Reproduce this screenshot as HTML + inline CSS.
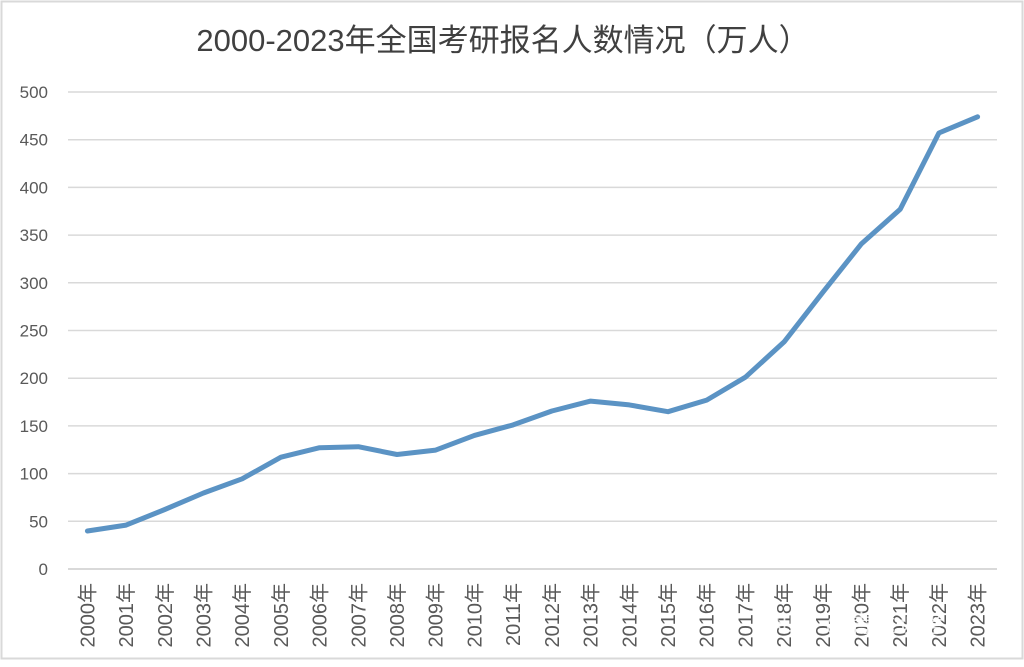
<!DOCTYPE html>
<html><head><meta charset="utf-8"><style>
body{margin:0;background:#fff;}
svg text{font-family:"Liberation Sans","Noto Sans CJK SC",sans-serif;}
</style></head><body>
<svg id="chart" width="1024" height="662" xmlns="http://www.w3.org/2000/svg">
<rect x="1.5" y="1.5" width="1021" height="657" fill="#fff" stroke="#d9d9d9" stroke-width="2"/>
<text x="503" y="51" text-anchor="middle" font-size="31" fill="#404040">2000-2023年全国考研报名人数情况（万人）</text>
<g id="grid"></g><g id="ylab"></g><g id="xlab"></g>
<path id="line" fill="none" stroke="#5b93c4" stroke-width="5" stroke-linejoin="round" stroke-linecap="round"/>
<text x="870" y="632" text-anchor="middle" font-size="24" fill="#fff" opacity="0.85">知乎 @青医说考研</text>
</svg>
<script>
const years=["2000年","2001年","2002年","2003年","2004年","2005年","2006年","2007年","2008年","2009年","2010年","2011年","2012年","2013年","2014年","2015年","2016年","2017年","2018年","2019年","2020年","2021年","2022年","2023年"];
const values=[39.8,46,62.4,79.7,94.5,117.2,127.1,128.2,120,124.6,140,151.1,165.6,176,172,164.9,177,201,238,290,341,377,457,474];
const yTicks=[0,50,100,150,200,250,300,350,400,450,500];
const NS="http://www.w3.org/2000/svg";
const x0=68,x1=997,yB=569,yT=92;
const step=(x1-x0)/years.length;
const X=i=>x0+step*(i+0.5);
const Y=v=>yB-(v/500)*(yB-yT);
const g=document.getElementById('grid'),yl=document.getElementById('ylab'),xl=document.getElementById('xlab');
yTicks.forEach(t=>{
 const l=document.createElementNS(NS,'line');
 
 
 l.setAttribute('x1',x0);l.setAttribute('x2',x1);l.setAttribute('y1',Y(t));l.setAttribute('y2',Y(t));
 l.setAttribute('stroke','#d9d9d9');l.setAttribute('stroke-width',t===0?2:1.5);
 g.appendChild(l);
 const tx=document.createElementNS(NS,'text');
 
 
 tx.setAttribute('x',48);tx.setAttribute('y',Y(t)+6);tx.setAttribute('text-anchor','end');
 tx.setAttribute('font-size','17');tx.setAttribute('fill','#595959');tx.textContent=t;
 yl.appendChild(tx);
});
years.forEach((yr,i)=>{
 const tx=document.createElementNS(NS,'text');
 
 
 const cx=X(i)+7,cy=583;
 tx.setAttribute('transform','translate('+cx+','+cy+') rotate(-90)');
 tx.setAttribute('text-anchor','end');tx.setAttribute('font-size','20');tx.setAttribute('fill','#595959');
 tx.textContent=yr;xl.appendChild(tx);
});
document.getElementById('line').setAttribute('d',values.map((v,i)=>(i?'L':'M')+X(i).toFixed(1)+' '+Y(v).toFixed(1)).join(' '));
</script>
</body></html>
